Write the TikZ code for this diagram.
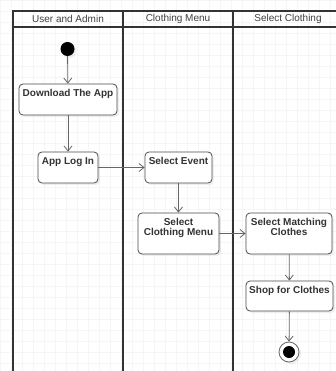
\documentclass[tikz,border=0pt]{standalone}
\usepackage{fontspec}
\setmainfont{Liberation Sans}
\usepackage{tikz}
\usetikzlibrary{arrows.meta,positioning,shadows}

\begin{document}
\begin{tikzpicture}[
    x=1pt, y=-1pt,
    lane/.style={draw=black!80, line width=1.3pt},
    lanetitle/.style={font=\fontsize{10}{11}\selectfont, text=black!75},
    activity/.style={rectangle, draw=black!70, line width=0.8pt, fill=white, rounded corners=4pt,
        drop shadow={opacity=0.12, shadow xshift=2pt, shadow yshift=-2pt}},
    caption/.style={font=\fontsize{10}{10.5}\selectfont\bfseries, text=black!80, align=center},
    flow/.style={-{Straight Barb[length=5pt,width=8pt]}, draw=black!60, line width=0.8pt}
]

\clip (0,0) rectangle (336,371);
\fill[white] (0,0) rectangle (336,371);
\draw[black!4, step=11pt] (0,0) grid (336,371);

% Swimlanes
\draw[lane] (13,380) -- (13,11) -- (343,11) -- (343,380);
\draw[lane] (13,27) -- (343,27);
\draw[lane] (123,11) -- (123,380);
\draw[lane] (233,11) -- (233,380);
\node[lanetitle] (user) at (68,19) {User and Admin};
\node[lanetitle] (menutitle) at (178,19) {Clothing Menu};
\node[lanetitle] (selecttitle) at (288,19) {Select Clothing};

% Start and end
\node[circle, fill=black, minimum size=14pt, inner sep=0pt,
    drop shadow={opacity=0.12, shadow xshift=2pt, shadow yshift=-2pt}] (start) at (67.5,49) {};
\node[circle, draw=black!60, line width=0.8pt, fill=white, minimum size=20pt, inner sep=0pt,
    drop shadow={opacity=0.12, shadow xshift=2pt, shadow yshift=-2pt}] (finish) at (289,352) {};
\fill[black] (finish.center) circle (6pt);

% Activities
\node[activity, minimum width=98pt, minimum height=31pt,
    label={[caption, anchor=north, yshift=-2pt]north:Download The App}] (download) at (68,99.5) {};
\node[activity, minimum width=60pt, minimum height=31pt,
    label={[caption, anchor=north, yshift=-2pt]north:App Log In}] (login) at (68,167.5) {};
\node[activity, minimum width=67pt, minimum height=31pt,
    label={[caption, anchor=north, yshift=-2pt]north:Select Event}] (event) at (178.5,167.5) {};
\node[activity, minimum width=81pt, minimum height=41pt,
    label={[caption, anchor=north, yshift=-2pt]north:Select\\Clothing Menu}] (clothmenu) at (178.5,233.5) {};
\node[activity, minimum width=86pt, minimum height=41pt,
    label={[caption, anchor=north, yshift=-2pt]north:Select Matching\\Clothes}] (matching) at (289,233.5) {};
\node[activity, minimum width=87pt, minimum height=30pt,
    label={[caption, anchor=north, yshift=-2pt]north:Shop for Clothes}] (shop) at (289.5,296) {};

% Arrows
\draw[flow] (start) -- (download);
\draw[flow] (download) -- (login);
\draw[flow] (login) -- (event);
\draw[flow] (event) -- (clothmenu);
\draw[flow] (clothmenu) -- (matching);
\draw[flow] (matching) -- (shop);
\draw[flow] (shop) -- (finish);

\end{tikzpicture}
\end{document}
